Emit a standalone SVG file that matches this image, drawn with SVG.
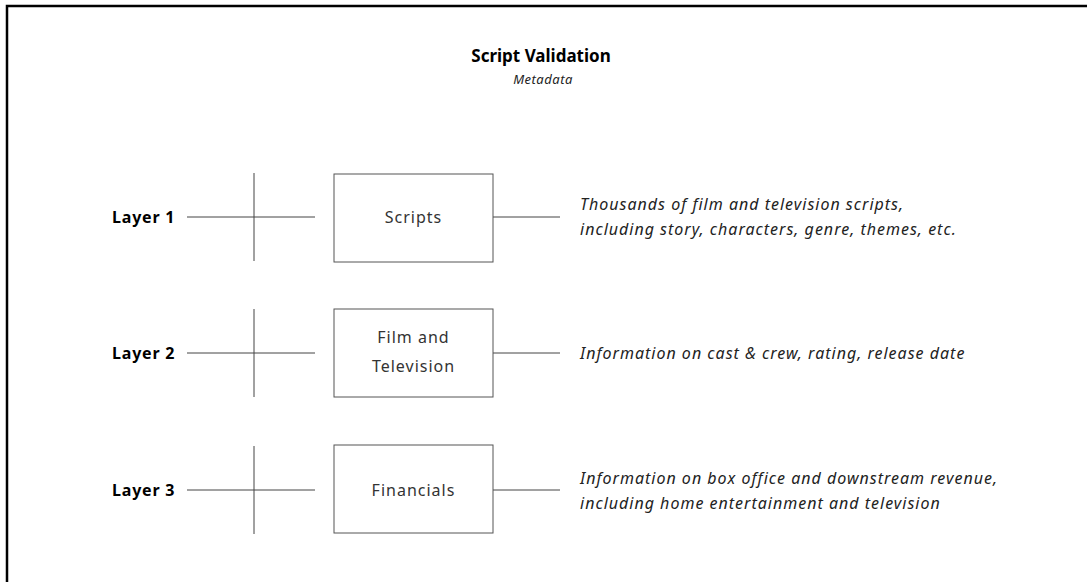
<svg xmlns="http://www.w3.org/2000/svg" width="1087" height="582" viewBox="0 0 1087 582">
  <style>
    .frame { fill: #ffffff; stroke: #000000; stroke-width: 2.5; }
    .line { stroke: #444444; stroke-width: 1; fill: none; }
    .box { fill: #ffffff; stroke: #555555; stroke-width: 1; }
    .title { font-family: "Noto Sans", "Open Sans", sans-serif; font-size: 17px; font-weight: bold; fill: #000000; }
    .subtitle { font-family: "Noto Sans", "Open Sans", sans-serif; font-size: 13px; font-style: italic; letter-spacing: 0.5px; fill: #222222; }
    .layer { font-family: "Noto Sans", "Open Sans", sans-serif; font-size: 16px; font-weight: bold; letter-spacing: 0.8px; fill: #000000; }
    .boxtext { font-family: "Noto Sans", "Open Sans", sans-serif; font-size: 16px; letter-spacing: 1px; fill: #333333; }
    .desc { font-family: "Noto Sans", "Open Sans", sans-serif; font-size: 16px; font-style: italic; letter-spacing: 1px; fill: #222222; }
  </style>

  <rect x="0" y="0" width="1087" height="582" fill="#ffffff"/>
  <rect class="frame" x="7" y="6" width="1090" height="590"/>

  <g id="header">
    <text class="title" x="541" y="62" text-anchor="middle">Script Validation</text>
    <text class="subtitle" x="543" y="84" text-anchor="middle">Metadata</text>
  </g>

  <!-- connectors: label leads, crosses and description leads -->
  <g id="connectors">
    <line class="line" x1="187" y1="217" x2="315" y2="217"/>
    <line class="line" x1="254" y1="173" x2="254" y2="261"/>
    <line class="line" x1="493" y1="217" x2="560" y2="217"/>

    <line class="line" x1="187" y1="353" x2="315" y2="353"/>
    <line class="line" x1="254" y1="309" x2="254" y2="397"/>
    <line class="line" x1="493" y1="353" x2="560" y2="353"/>

    <line class="line" x1="187" y1="490" x2="315" y2="490"/>
    <line class="line" x1="254" y1="446" x2="254" y2="534"/>
    <line class="line" x1="493" y1="490" x2="560" y2="490"/>
  </g>

  <g id="layer1">
    <text class="layer" x="112" y="223">Layer 1</text>
    <rect class="box" x="334" y="174" width="159" height="88"/>
    <text class="boxtext" x="413.5" y="223" text-anchor="middle">Scripts</text>
    <text class="desc" x="580" y="210">Thousands of film and television scripts,</text>
    <text class="desc" x="580" y="235">including story, characters, genre, themes, etc.</text>
  </g>

  <g id="layer2">
    <text class="layer" x="112" y="359">Layer 2</text>
    <rect class="box" x="334" y="309" width="159" height="88"/>
    <text class="boxtext" x="413.5" y="343" text-anchor="middle">Film and</text>
    <text class="boxtext" x="413.5" y="372" text-anchor="middle">Television</text>
    <text class="desc" x="580" y="359">Information on cast &amp; crew, rating, release date</text>
  </g>

  <g id="layer3">
    <text class="layer" x="112" y="496">Layer 3</text>
    <rect class="box" x="334" y="445" width="159" height="88"/>
    <text class="boxtext" x="413.5" y="496" text-anchor="middle">Financials</text>
    <text class="desc" x="580" y="484">Information on box office and downstream revenue,</text>
    <text class="desc" x="580" y="509">including home entertainment and television</text>
  </g>
</svg>
